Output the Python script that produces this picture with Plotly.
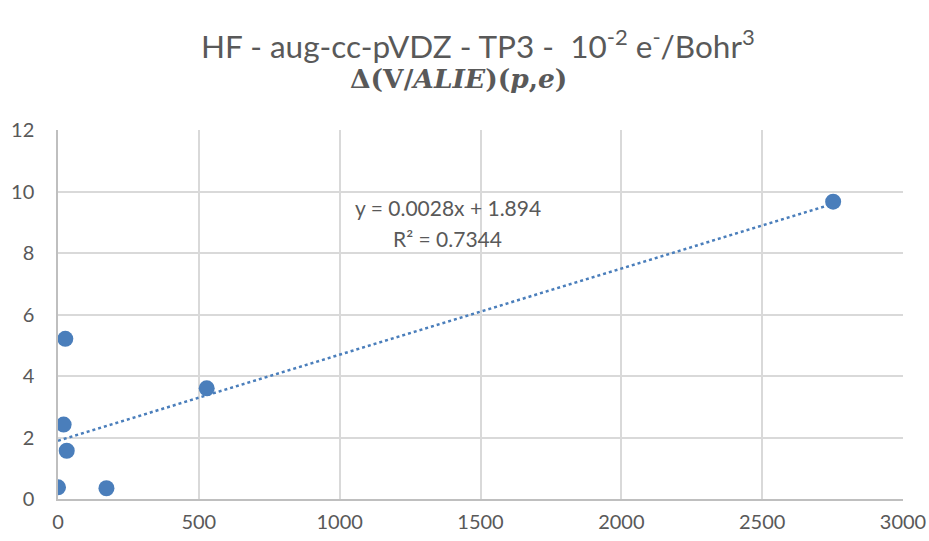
import plotly.graph_objects as go

x_vals = [0, 20, 26, 31, 172, 528, 2752]
y_vals = [0.38, 2.42, 5.21, 1.57, 0.35, 3.6, 9.67]

fit_slope = 0.0028
fit_intercept = 1.894
fit_x = [0, 2752]
fit_y = [fit_intercept + fit_slope * v for v in fit_x]

x_ticks = [0, 500, 1000, 1500, 2000, 2500, 3000]
y_ticks = [0, 2, 4, 6, 8, 10, 12]

grey = "#595959"
blue = "#4a7ebb"
font_family = "Lato, Open Sans, sans-serif"

fig = go.Figure()
fig.add_trace(go.Scatter(x=fit_x, y=fit_y, mode="lines",
                         line=dict(color=blue, width=2.5, dash="dot"),
                         hoverinfo="skip", showlegend=False))
fig.add_trace(go.Scatter(x=x_vals, y=y_vals, mode="markers",
                         marker=dict(color=blue, size=16, line=dict(width=0)),
                         showlegend=False))

fig.add_annotation(x=0.4615, y=0.789, xref="paper", yref="paper",
                   text="y = 0.0028x + 1.894",
                   showarrow=False, xanchor="center", yanchor="middle",
                   font=dict(family=font_family, size=21, color=grey))
fig.add_annotation(x=0.461, y=0.707, xref="paper", yref="paper",
                   text="R² = 0.7344",
                   showarrow=False, xanchor="center", yanchor="middle",
                   font=dict(family=font_family, size=21, color=grey))

fig.add_annotation(x=0.497, y=1.233, xref="paper", yref="paper",
                   text="HF - aug-cc-pVDZ - TP3 -  10<sup>-2</sup> e<sup>-</sup>/Bohr<sup>3</sup>",
                   showarrow=False, xanchor="center", yanchor="middle",
                   font=dict(family=font_family, size=31.5, color=grey))
fig.add_annotation(x=0.474, y=1.14, xref="paper", yref="paper",
                   text="<b>Δ(V/<i>ALIE</i>)(<i>p</i>,<i>e</i>)</b>",
                   showarrow=False, xanchor="center", yanchor="middle",
                   font=dict(family="DejaVu Serif, serif", size=26.5, color=grey))

fig.update_layout(
    width=929, height=541,
    margin=dict(l=58, r=26, t=130, b=42, autoexpand=False),
    paper_bgcolor="white", plot_bgcolor="white",
    xaxis=dict(range=[0, 3000], tickvals=x_ticks, showgrid=True, gridcolor="#d9d9d9",
               gridwidth=1.5, zeroline=False, showline=True, linecolor="#bfbfbf", linewidth=1.5,
               ticks="", automargin=False, ticklabelstandoff=4,
               tickfont=dict(family=font_family, size=20, color=grey)),
    yaxis=dict(range=[0, 12], tickvals=y_ticks, showgrid=True, gridcolor="#d9d9d9",
               gridwidth=1.5, zeroline=False, showline=True, linecolor="#bfbfbf", linewidth=1.5,
               ticks="", automargin=False, ticklabelstandoff=18,
               tickfont=dict(family=font_family, size=20, color=grey)),
)
fig.write_html("out.html", config={"displayModeBar": False},
               post_script="document.body.style.margin='0';document.body.style.padding='0';")
